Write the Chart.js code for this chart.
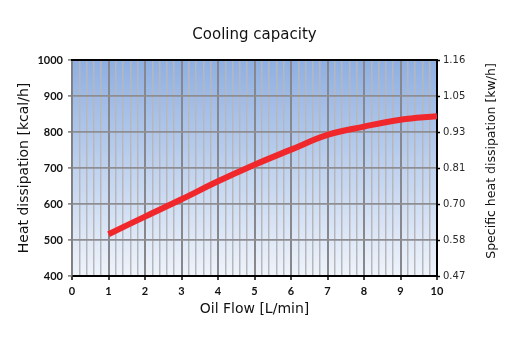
<!DOCTYPE html>
<html>
<head>
<meta charset="utf-8">
<script src="https://cdn.jsdelivr.net/npm/chart.js@4/dist/chart.umd.min.js"></script>
<style>
  html, body { margin: 0; padding: 0; background: #ffffff; }
  #wrap { width: 525px; height: 348px; }
</style>
</head>
<body>
<div id="wrap"><canvas id="c" width="525" height="348"></canvas></div>
<script>
// ---- data ----
const oilFlow = [1, 2, 3, 4, 5, 6, 7, 8, 9, 10];            // L/min
const heatDissipation = [516, 565, 613, 663, 709, 751, 792, 815, 834, 844]; // kcal/h
const xTickLabels = ['0', '1', '2', '3', '4', '5', '6', '7', '8', '9', '10'];
const yLeftTickLabels = ['400', '500', '600', '700', '800', '900', '1000'];
const yRightTickLabels = ['0.47', '0.58', '0.70', '0.81', '0.93', '1.05', '1.16'];
const chartTitle = 'Cooling capacity';
const xTitle = 'Oil Flow [L/min]';
const yLeftTitle = 'Heat dissipation [kcal/h]';
const yRightTitle = 'Specific heat dissipation [kw/h]';

function isMajor(v) { return Math.abs(v - Math.round(v)) < 1e-6; }

const bgPlugin = {
  id: 'bg',
  beforeDraw(chart) {
    const { ctx, chartArea: a } = chart;
    ctx.save();
    ctx.fillStyle = '#ffffff';
    ctx.fillRect(0, 0, chart.width, chart.height);
    const g = ctx.createLinearGradient(0, a.top, 0, a.bottom);
    g.addColorStop(0, '#8eafe2');
    g.addColorStop(1, '#eff4fb');
    ctx.fillStyle = g;
    ctx.fillRect(a.left, a.top, a.right - a.left, a.bottom - a.top);
    ctx.restore();
  },
  afterDraw(chart) {
    const { ctx, chartArea: a } = chart;
    ctx.save();
    ctx.strokeStyle = '#000000';
    ctx.lineWidth = 2;
    ctx.beginPath();
    ctx.moveTo(a.left - 1, a.top);
    ctx.lineTo(a.right + 1, a.top);
    ctx.stroke();
    // right-hand axis title, reading bottom to top
    ctx.translate(492, 161);
    ctx.rotate(-Math.PI / 2);
    ctx.fillStyle = '#111111';
    ctx.font = '12.5px "DejaVu Sans"';
    ctx.textAlign = 'center';
    ctx.textBaseline = 'middle';
    ctx.fillText(yRightTitle, 0, 0);
    ctx.restore();
  }
};

new Chart(document.getElementById('c'), {
  type: 'line',
  data: {
    datasets: [{
      data: oilFlow.map((x, i) => ({ x: x, y: heatDissipation[i] })),
      borderColor: '#f0282c',
      borderWidth: 6,
      pointRadius: 0,
      tension: 0.4,
      fill: false,
      yAxisID: 'y'
    }]
  },
  options: {
    responsive: false,
    animation: false,
    devicePixelRatio: 1,
    layout: { padding: 0 },
    plugins: {
      legend: { display: false },
      tooltip: { enabled: false },
      title: {
        display: true,
        text: chartTitle,
        fullSize: false,
        color: '#111111',
        font: { family: 'DejaVu Sans', size: 15, weight: 'normal' },
        padding: { top: 26, bottom: 16 }
      }
    },
    scales: {
      x: {
        type: 'linear',
        min: 0,
        max: 10,
        afterFit(s) { s.height = 72; },
        ticks: {
          stepSize: 0.2,
          maxTicksLimit: 100,
          autoSkip: false,
          maxRotation: 0,
          padding: 5,
          color: '#111111',
          font: { family: 'Lato, "Liberation Sans"', size: 11, weight: 'bold' },
          callback(v) { return isMajor(v) ? xTickLabels[Math.round(v)] : ''; }
        },
        grid: {
          drawTicks: true,
          tickLength: 4,
          color: ctx => isMajor(ctx.tick.value) ? '#88888c' : '#b7b7bb',
          lineWidth: ctx => isMajor(ctx.tick.value) ? 2 : 1.5,
          tickColor: ctx => isMajor(ctx.tick.value) ? '#000000' : 'rgba(0,0,0,0)',
          tickWidth: 1.5
        },
        border: { display: true, color: '#000000', width: 2 },
        title: {
          display: true,
          text: xTitle,
          color: '#111111',
          font: { family: 'DejaVu Sans', size: 14, weight: 'normal' },
          padding: { top: 4, bottom: 30 }
        }
      },
      y: {
        type: 'linear',
        position: 'left',
        min: 400,
        max: 1000,
        afterFit(s) { s.width = 72; },
        ticks: {
          stepSize: 100,
          padding: 5,
          color: '#111111',
          font: { family: 'Lato, "Liberation Sans"', size: 11, weight: 'bold' },
          callback(v, i) { return yLeftTickLabels[i]; }
        },
        grid: {
          drawTicks: true,
          tickLength: 4,
          color: '#8e8e92',
          lineWidth: 1.8,
          tickColor: '#7a7a7a',
          tickWidth: 1.5
        },
        border: { display: true, color: '#7f7f7f', width: 1.5 },
        title: {
          display: true,
          text: yLeftTitle,
          color: '#111111',
          font: { family: 'DejaVu Sans', size: 14, weight: 'normal' },
          padding: { top: 16, bottom: 4 }
        }
      },
      y2: {
        type: 'linear',
        position: 'right',
        min: 400,
        max: 1000,
        afterFit(s) { s.width = 88; },
        ticks: {
          stepSize: 100,
          padding: 3,
          color: '#2a2a2a',
          font: { family: 'DejaVu Sans', size: 10, weight: 'normal' },
          callback(v, i) { return yRightTickLabels[i]; }
        },
        grid: {
          drawOnChartArea: false,
          drawTicks: true,
          tickLength: 3,
          tickColor: '#000000',
          tickWidth: 1.5
        },
        border: { display: true, color: '#000000', width: 2 },
        title: { display: false }
      }
    }
  },
  plugins: [bgPlugin]
});
</script>
</body>
</html>
